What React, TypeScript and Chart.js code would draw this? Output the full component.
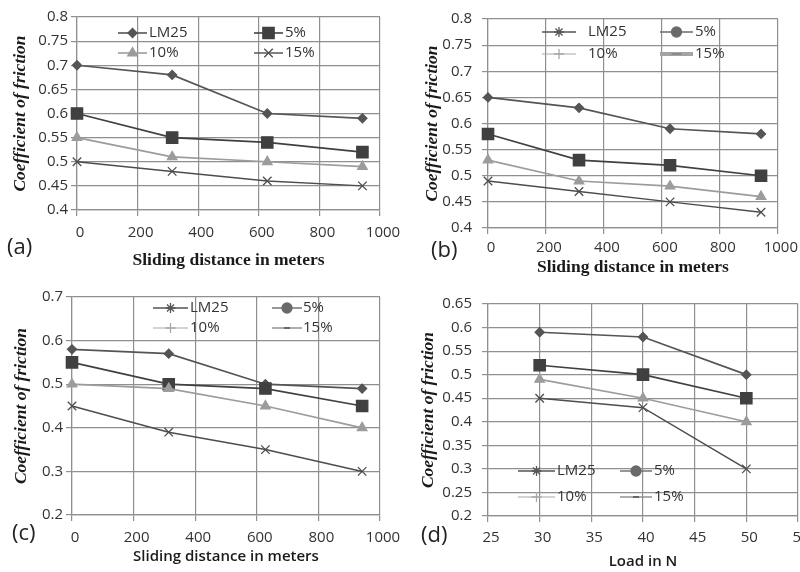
import React, { useEffect, useRef } from "react";
import { Chart, registerables } from "chart.js";
import { drawPoint } from "chart.js/helpers";

Chart.register(...registerables);

// ---------- data ----------
const seriesNames = ["LM25", "5%", "10%", "15%"];
const slidingDistance = [0, 314, 628, 942];
const loadN = [30, 40, 50];

const aLM25 = [0.7, 0.68, 0.6, 0.59];
const a5 = [0.6, 0.55, 0.54, 0.52];
const a10 = [0.55, 0.51, 0.5, 0.49];
const a15 = [0.5, 0.48, 0.46, 0.45];

const bLM25 = [0.65, 0.63, 0.59, 0.58];
const b5 = [0.58, 0.53, 0.52, 0.5];
const b10 = [0.53, 0.49, 0.48, 0.46];
const b15 = [0.49, 0.47, 0.45, 0.43];

const cLM25 = [0.58, 0.57, 0.5, 0.49];
const c5 = [0.55, 0.5, 0.49, 0.45];
const c10 = [0.5, 0.49, 0.45, 0.4];
const c15 = [0.45, 0.39, 0.35, 0.3];

const dLM25 = [0.59, 0.58, 0.5];
const d5 = [0.52, 0.5, 0.45];
const d10 = [0.49, 0.45, 0.4];
const d15 = [0.45, 0.43, 0.3];

const distanceTitle = "Sliding distance in meters";
const loadTitle = "Load in N";
const frictionTitle = "Coefficient of friction";
const panelLabels = ["(a)", "(b)", "(c)", "(d)"];

// ---------- styles ----------
const SANS = "'Open Sans', 'DejaVu Sans', sans-serif";
const SERIF = "'Liberation Serif', 'DejaVu Serif', serif";
const GRID = "#8f8f8f";
const TEXT = "#333333";

const plotStyles = [
  { pointStyle: "rectRot", radius: 4.5, color: "#555555", lineWidth: 1.7 },
  { pointStyle: "rect", radius: 8, color: "#404040", lineWidth: 1.7 },
  { pointStyle: "triangle", radius: 5.5, color: "#9c9c9c", lineWidth: 1.7 },
  { pointStyle: "crossRot", radius: 6, color: "#4d4d4d", lineWidth: 1.5 },
];

const legendPlotStyles = [
  { pointStyle: "rectRot", radius: 4.5, color: "#555555", lw: 1.6 },
  { pointStyle: "rect", radius: 8, color: "#404040", lw: 1.6 },
  { pointStyle: "triangle", radius: 5.5, color: "#9c9c9c", lw: 1.6 },
  { pointStyle: "crossRot", radius: 6, color: "#4d4d4d", lw: 1.4 },
];
const legendAltStyles = (thick15: boolean) => [
  { pointStyle: "star", radius: 5, color: "#555555", lw: 1.4 },
  { pointStyle: "circle", radius: 5, color: "#6a6a6a", lw: 1.4 },
  { pointStyle: "cross", radius: 5, color: "#a8a8a8", lw: 1.2 },
  thick15
    ? { pointStyle: "line", radius: 5, color: "#a4a4a4", lw: 4, pColor: "#8a8a8a" }
    : { pointStyle: "line", radius: 3, color: "#8a8a8a", lw: 1.4, pColor: "#666666" },
];

const insideLegend = {
  id: "insideLegend",
  afterDraw(chart: any, _args: any, opts: any) {
    const ctx = chart.ctx as CanvasRenderingContext2D;
    const items = opts.items || [];
    for (const it of items) {
      ctx.save();
      ctx.strokeStyle = it.color;
      ctx.lineWidth = it.lw;
      ctx.beginPath();
      ctx.moveTo(it.x0, it.y);
      ctx.lineTo(it.x1, it.y);
      ctx.stroke();
      ctx.fillStyle = it.pColor || it.color;
      ctx.strokeStyle = it.pColor || it.color;
      ctx.lineWidth = it.pointStyle === "line" ? 2 : 1.3;
      drawPoint(
        ctx,
        { pointStyle: it.pointStyle, radius: it.radius, rotation: 0, borderWidth: it.pointStyle === "line" ? 2 : 1.3 } as any,
        (it.x0 + it.x1) / 2,
        it.y
      );
      ctx.fillStyle = TEXT;
      ctx.font = `15px ${SANS}`;
      ctx.textBaseline = "middle";
      ctx.textAlign = "left";
      ctx.fillText(it.text, it.tx, it.y);
      ctx.restore();
    }
  },
};

type Panel = {
  left: number; top: number; w: number; h: number;
  pad: { left: number; top: number; right: number; bottom: number };
  yW: number; xH: number;
  xs: number[]; series: number[][];
  x: { min: number; max: number; step: number; tickPad: number; title: string; font: any; titlePB: number };
  y: { min: number; max: number; step: number; tickPad: number; titlePT: number };
  legendCols: { x0: number; x1: number; tx: number }[];
  legendRows: number[];
  legendStyles: any[];
};

const serifTitleFont = { family: SERIF, size: 17.5, weight: "bold" };
const sansTitleFont = { family: SANS, size: 15, weight: "600" };

const panels: Panel[] = [
  {
    left: 0, top: 0, w: 420, h: 285,
    pad: { left: 0, top: 17, right: 40, bottom: 0 }, yW: 77, xH: 75,
    xs: slidingDistance, series: [aLM25, a5, a10, a15],
    x: { min: 0, max: 1000, step: 200, tickPad: 8, title: distanceTitle, font: serifTitleFont, titlePB: 14.5 },
    y: { min: 0.4, max: 0.8, step: 0.05, tickPad: 3, titlePT: 9.5 },
    legendCols: [{ x0: 118, x1: 147, tx: 149 }, { x0: 254, x1: 283, tx: 285 }],
    legendRows: [33, 53],
    legendStyles: legendPlotStyles,
  },
  {
    left: 400, top: 0, w: 400, h: 285,
    pad: { left: 0, top: 17, right: 19, bottom: 0 }, yW: 88, xH: 57,
    xs: slidingDistance, series: [bLM25, b5, b10, b15],
    x: { min: 0, max: 1000, step: 200, tickPad: 5, title: distanceTitle, font: serifTitleFont, titlePB: 7.5 },
    y: { min: 0.4, max: 0.8, step: 0.05, tickPad: 10, titlePT: 21.5 },
    legendCols: [{ x0: 142, x1: 176, tx: 188 }, { x0: 260, x1: 293, tx: 295 }],
    legendRows: [32, 54],
    legendStyles: legendAltStyles(true),
  },
  {
    left: 0, top: 285, w: 420, h: 287,
    pad: { left: 0, top: 10, right: 40, bottom: 0 }, yW: 72, xH: 57,
    xs: slidingDistance, series: [cLM25, c5, c10, c15],
    x: { min: 0, max: 1000, step: 200, tickPad: 8, title: distanceTitle, font: sansTitleFont, titlePB: 6 },
    y: { min: 0.2, max: 0.7, step: 0.1, tickPad: 3, titlePT: 10.5 },
    legendCols: [{ x0: 153, x1: 188, tx: 190 }, { x0: 272, x1: 302, tx: 303 }],
    legendRows: [23, 43],
    legendStyles: legendAltStyles(false),
  },
  {
    left: 400, top: 285, w: 420, h: 287,
    pad: { left: 0, top: 11, right: 22, bottom: 0 }, yW: 88, xH: 56,
    xs: loadN, series: [dLM25, d5, d10, d15],
    x: { min: 25, max: 55, step: 5, tickPad: 7, title: loadTitle, font: sansTitleFont, titlePB: 1 },
    y: { min: 0.2, max: 0.65, step: 0.05, tickPad: 10, titlePT: 17.5 },
    legendCols: [{ x0: 118, x1: 155, tx: 157 }, { x0: 220, x1: 252, tx: 254 }],
    legendRows: [186, 212],
    legendStyles: legendAltStyles(false),
  },
];

const labelPos = [
  { left: 7, top: 233 },
  { left: 431, top: 236 },
  { left: 12, top: 519 },
  { left: 421, top: 521 },
];

function buildConfig(p: Panel): any {
  const datasets = p.series.map((ys, i) => {
    const st = plotStyles[i];
    return {
      label: seriesNames[i],
      data: p.xs.map((x, j) => ({ x, y: ys[j] })),
      borderColor: st.color,
      backgroundColor: st.color,
      borderWidth: st.lineWidth,
      pointStyle: st.pointStyle,
      pointRadius: st.radius,
      pointBorderWidth: 1.3,
      pointBackgroundColor: st.color,
      pointBorderColor: st.color,
      tension: 0,
      fill: false,
      clip: false,
      order: 4 - i,
    };
  });
  const legendItems = seriesNames.map((name, i) => {
    const col = p.legendCols[i % 2];
    const row = p.legendRows[Math.floor(i / 2)];
    const st = p.legendStyles[i];
    return { text: name, x0: col.x0, x1: col.x1, tx: col.tx, y: row, ...st };
  });
  const tickFont = { family: SANS, size: 15 };
  return {
    type: "line",
    data: { datasets },
    plugins: [insideLegend],
    options: {
      responsive: false,
      animation: false,
      devicePixelRatio: 1,
      layout: { padding: p.pad },
      plugins: {
        legend: { display: false },
        tooltip: { enabled: false },
        insideLegend: { items: legendItems },
      },
      scales: {
        x: {
          type: "linear",
          min: p.x.min,
          max: p.x.max,
          ticks: {
            stepSize: p.x.step,
            padding: p.x.tickPad,
            labelOffset: 3,
            font: tickFont,
            color: TEXT,
            maxRotation: 0,
            autoSkip: false,
            callback: (v: any) => String(v),
          },
          grid: { color: GRID, lineWidth: 1.2, tickLength: 6 },
          border: { color: GRID, width: 1.2 },
          title: {
            display: true,
            text: p.x.title,
            font: p.x.font,
            color: "#1a1a1a",
            padding: { top: 0, bottom: p.x.titlePB },
          },
          afterFit: (s: any) => {
            s.height = p.xH;
          },
        },
        y: {
          type: "linear",
          min: p.y.min,
          max: p.y.max,
          ticks: {
            stepSize: p.y.step,
            padding: p.y.tickPad,
            font: tickFont,
            color: TEXT,
            autoSkip: false,
            callback: (v: any) => String(Number(Number(v).toFixed(2))),
          },
          grid: { color: GRID, lineWidth: 1.2, tickLength: 6 },
          border: { color: GRID, width: 1.2 },
          title: {
            display: true,
            text: frictionTitle,
            font: { family: SERIF, size: 17.5, weight: "bold", style: "italic" },
            color: "#1a1a1a",
            padding: { top: p.y.titlePT, bottom: 0 },
          },
          afterFit: (s: any) => {
            s.width = p.yW;
          },
        },
      },
    },
  };
}

function PanelChart({ p }: { p: Panel }) {
  const ref = useRef<HTMLCanvasElement | null>(null);
  useEffect(() => {
    if (!ref.current) return;
    const chart = new Chart(ref.current, buildConfig(p));
    return () => chart.destroy();
  }, [p]);
  return (
    <canvas
      ref={ref}
      width={p.w}
      height={p.h}
      style={{ position: "absolute", left: p.left, top: p.top, width: p.w, height: p.h }}
    />
  );
}

export default function App() {
  return (
    <div
      style={{
        position: "absolute",
        left: 0,
        top: 0,
        width: 800,
        height: 572,
        overflow: "hidden",
        background: "#ffffff",
      }}
    >
      {panels.map((p, i) => (
        <PanelChart key={i} p={p} />
      ))}
      {panelLabels.map((t, i) => (
        <div
          key={t}
          style={{
            position: "absolute",
            left: labelPos[i].left,
            top: labelPos[i].top,
            fontFamily: SANS,
            fontSize: 22,
            lineHeight: "24px",
            color: "#222",
          }}
        >
          {t}
        </div>
      ))}
    </div>
  );
}
